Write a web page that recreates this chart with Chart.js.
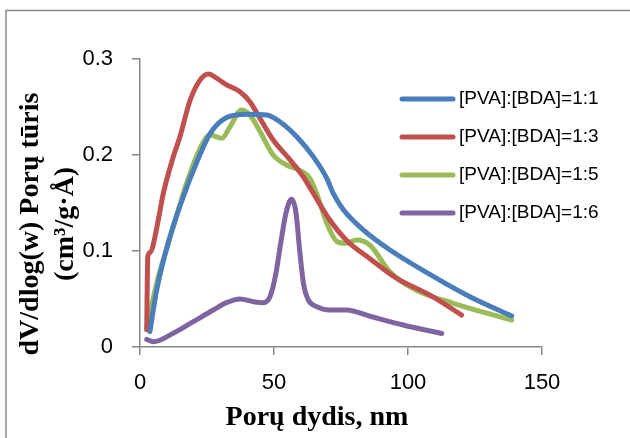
<!DOCTYPE html>
<html>
<head>
<meta charset="utf-8">
<script src="https://cdn.jsdelivr.net/npm/chart.js@4.4.1/dist/chart.umd.min.js"></script>
<style>
  html, body { margin: 0; padding: 0; background: #fff; overflow: hidden; }
  #wrap { position: relative; width: 630px; height: 438px; }
</style>
</head>
<body>
<div id="wrap"><canvas id="c" width="630" height="438"></canvas></div>
<script>
// ---- Data ----
const seriesLabels = ['[PVA]:[BDA]=1:1', '[PVA]:[BDA]=1:3', '[PVA]:[BDA]=1:5', '[PVA]:[BDA]=1:6'];
const seriesColors = ['#4A7EBB', '#C0504D', '#9BBB59', '#8064A2'];

const x11 = [3.7, 6.2, 11.2, 16.2, 21.1, 26.1, 32.3, 39.8, 47.3, 52.2, 58.5, 64.7, 69.7, 72.1, 75.9, 83.3, 93.3, 110.7, 123.1, 138.7];
const y11 = [0.016, 0.059, 0.115, 0.157, 0.192, 0.222, 0.239, 0.2424, 0.2417, 0.2347, 0.219, 0.198, 0.1757, 0.16, 0.143, 0.122, 0.101, 0.0715, 0.0524, 0.0323];

const x13 = [2.5, 2.9, 4.0, 5.6, 6.8, 8.7, 12.4, 14.9, 18.7, 22.4, 25.5, 28.6, 32.3, 37.3, 41, 44.8, 49.7, 56, 61, 64.7, 70.9, 77.1, 85.8, 95.8, 108.2, 120];
const y13 = [0.018, 0.094, 0.099, 0.115, 0.132, 0.16, 0.198, 0.219, 0.257, 0.278, 0.2844, 0.28, 0.273, 0.266, 0.2555, 0.238, 0.2156, 0.195, 0.177, 0.16, 0.132, 0.111, 0.092, 0.0715, 0.054, 0.0333];

const x15 = [2.5, 6.2, 12.4, 18, 22.4, 26.1, 30.5, 33.6, 37.9, 41, 44.8, 49.7, 54.7, 59.7, 63.4, 65.9, 69.7, 73.4, 76.5, 81, 85.8, 93.3, 103.2, 116.9, 138.7];
const y15 = [0.0195, 0.066, 0.125, 0.1757, 0.207, 0.2208, 0.2174, 0.2295, 0.2469, 0.2417, 0.2243, 0.2, 0.1896, 0.184, 0.1757, 0.16, 0.129, 0.11, 0.108, 0.1115, 0.106, 0.078, 0.059, 0.0455, 0.028];

const x16 = [2.5, 5, 12.4, 19.9, 27.3, 32.3, 37.3, 42.3, 46, 48.5, 50.6, 52.5, 54.5, 56.6, 58.2, 59.6, 61, 62.6, 65.9, 70.9, 77.1, 85.8, 98.2, 112.6];
const y16 = [0.008, 0.0055, 0.0143, 0.0264, 0.0385, 0.0462, 0.05, 0.0472, 0.0462, 0.0524, 0.075, 0.108, 0.14, 0.154, 0.14, 0.1, 0.066, 0.05, 0.042, 0.0385, 0.0385, 0.032, 0.0229, 0.014];

const xTickLabels = ['0', '50', '100', '150'];
const yTickLabels = ['0', '0.1', '0.2', '0.3'];
const xTitle = 'Porų dydis, nm';
const yTitleLines = ['dV/dlog(w) Porų tūris', '(cm³/g·Å)'];

// ---- Build datasets ----
const xs = [x11, x13, x15, x16];
const ys = [y11, y13, y15, y16];
const datasets = xs.map((xa, i) => ({
  label: seriesLabels[i],
  data: xa.map((x, j) => ({ x: x, y: ys[i][j] })),
  borderColor: seriesColors[i],
  backgroundColor: seriesColors[i],
  borderWidth: 5,
  pointRadius: 0,
  pointHoverRadius: 0,
  showLine: true,
  fill: false,
  cubicInterpolationMode: 'monotone',
  borderCapStyle: 'round',
  borderJoinStyle: 'round'
}));

const axisGray = '#868686';
const tickFont = { family: '"Liberation Sans", Arial, sans-serif', size: 22 };

const decorPlugin = {
  id: 'decor',
  beforeDraw(chart) {
    const ctx = chart.ctx;
    ctx.save();
    ctx.fillStyle = '#fff';
    ctx.fillRect(0, 0, chart.width, chart.height);
    ctx.strokeStyle = '#8a8a8a';
    ctx.lineWidth = 1.5;
    ctx.strokeRect(6, 10.5, 700, 500);
    ctx.restore();
  },
  afterDraw(chart) {
    const ctx = chart.ctx;
    ctx.save();
    // Axis titles
    ctx.fillStyle = '#000';
    ctx.font = 'bold 28px "Liberation Serif", "Times New Roman", serif';
    ctx.textAlign = 'center';
    ctx.textBaseline = 'alphabetic';
    ctx.fillText(xTitle, 317, 425);
    const yBase = [38, 73];
    yTitleLines.forEach((t, i) => {
      ctx.save();
      ctx.translate(yBase[i], 224);
      ctx.rotate(-Math.PI / 2);
      ctx.fillText(t, 0, 0);
      ctx.restore();
    });
    // Legend
    ctx.font = '19px "Liberation Sans", Arial, sans-serif';
    ctx.textAlign = 'left';
    ctx.textBaseline = 'middle';
    chart.data.datasets.forEach((ds, i) => {
      const y = 99 + 38 * i;
      ctx.strokeStyle = ds.borderColor;
      ctx.lineWidth = 5;
      ctx.lineCap = 'round';
      ctx.beginPath();
      ctx.moveTo(402, y);
      ctx.lineTo(453, y);
      ctx.stroke();
      ctx.fillStyle = '#000';
      ctx.fillText(ds.label, 459, y);
    });
    ctx.restore();
  }
};

new Chart(document.getElementById('c'), {
  type: 'scatter',
  data: { datasets: datasets },
  options: {
    responsive: false,
    animation: false,
    devicePixelRatio: 1,
    layout: { padding: { left: 0, top: 59, right: 88, bottom: 0 } },
    plugins: { legend: { display: false }, tooltip: { enabled: false }, title: { display: false } },
    scales: {
      x: {
        type: 'linear', min: 0, max: 150,
        afterFit(s) { s.height = 91; },
        ticks: {
          stepSize: 50, color: '#000', font: tickFont, padding: 15, maxRotation: 0,
          callback: (v) => { const i = Math.round(v / 50); return xTickLabels[i] !== undefined ? xTickLabels[i] : ''; }
        },
        grid: { drawOnChartArea: false, drawTicks: true, tickLength: 8, color: axisGray, lineWidth: 1.5 },
        border: { display: true, color: axisGray, width: 1.5 },
        title: { display: false }
      },
      y: {
        type: 'linear', min: 0, max: 0.3,
        afterFit(s) { s.width = 140; },
        ticks: {
          stepSize: 0.1, color: '#000', font: tickFont, padding: 19,
          callback: (v) => { const i = Math.round(v * 10); return yTickLabels[i] !== undefined ? yTickLabels[i] : ''; }
        },
        grid: { drawOnChartArea: false, drawTicks: true, tickLength: 8, color: axisGray, lineWidth: 1.5 },
        border: { display: true, color: axisGray, width: 1.5 },
        title: { display: false }
      }
    }
  },
  plugins: [decorPlugin]
});
</script>
</body>
</html>
